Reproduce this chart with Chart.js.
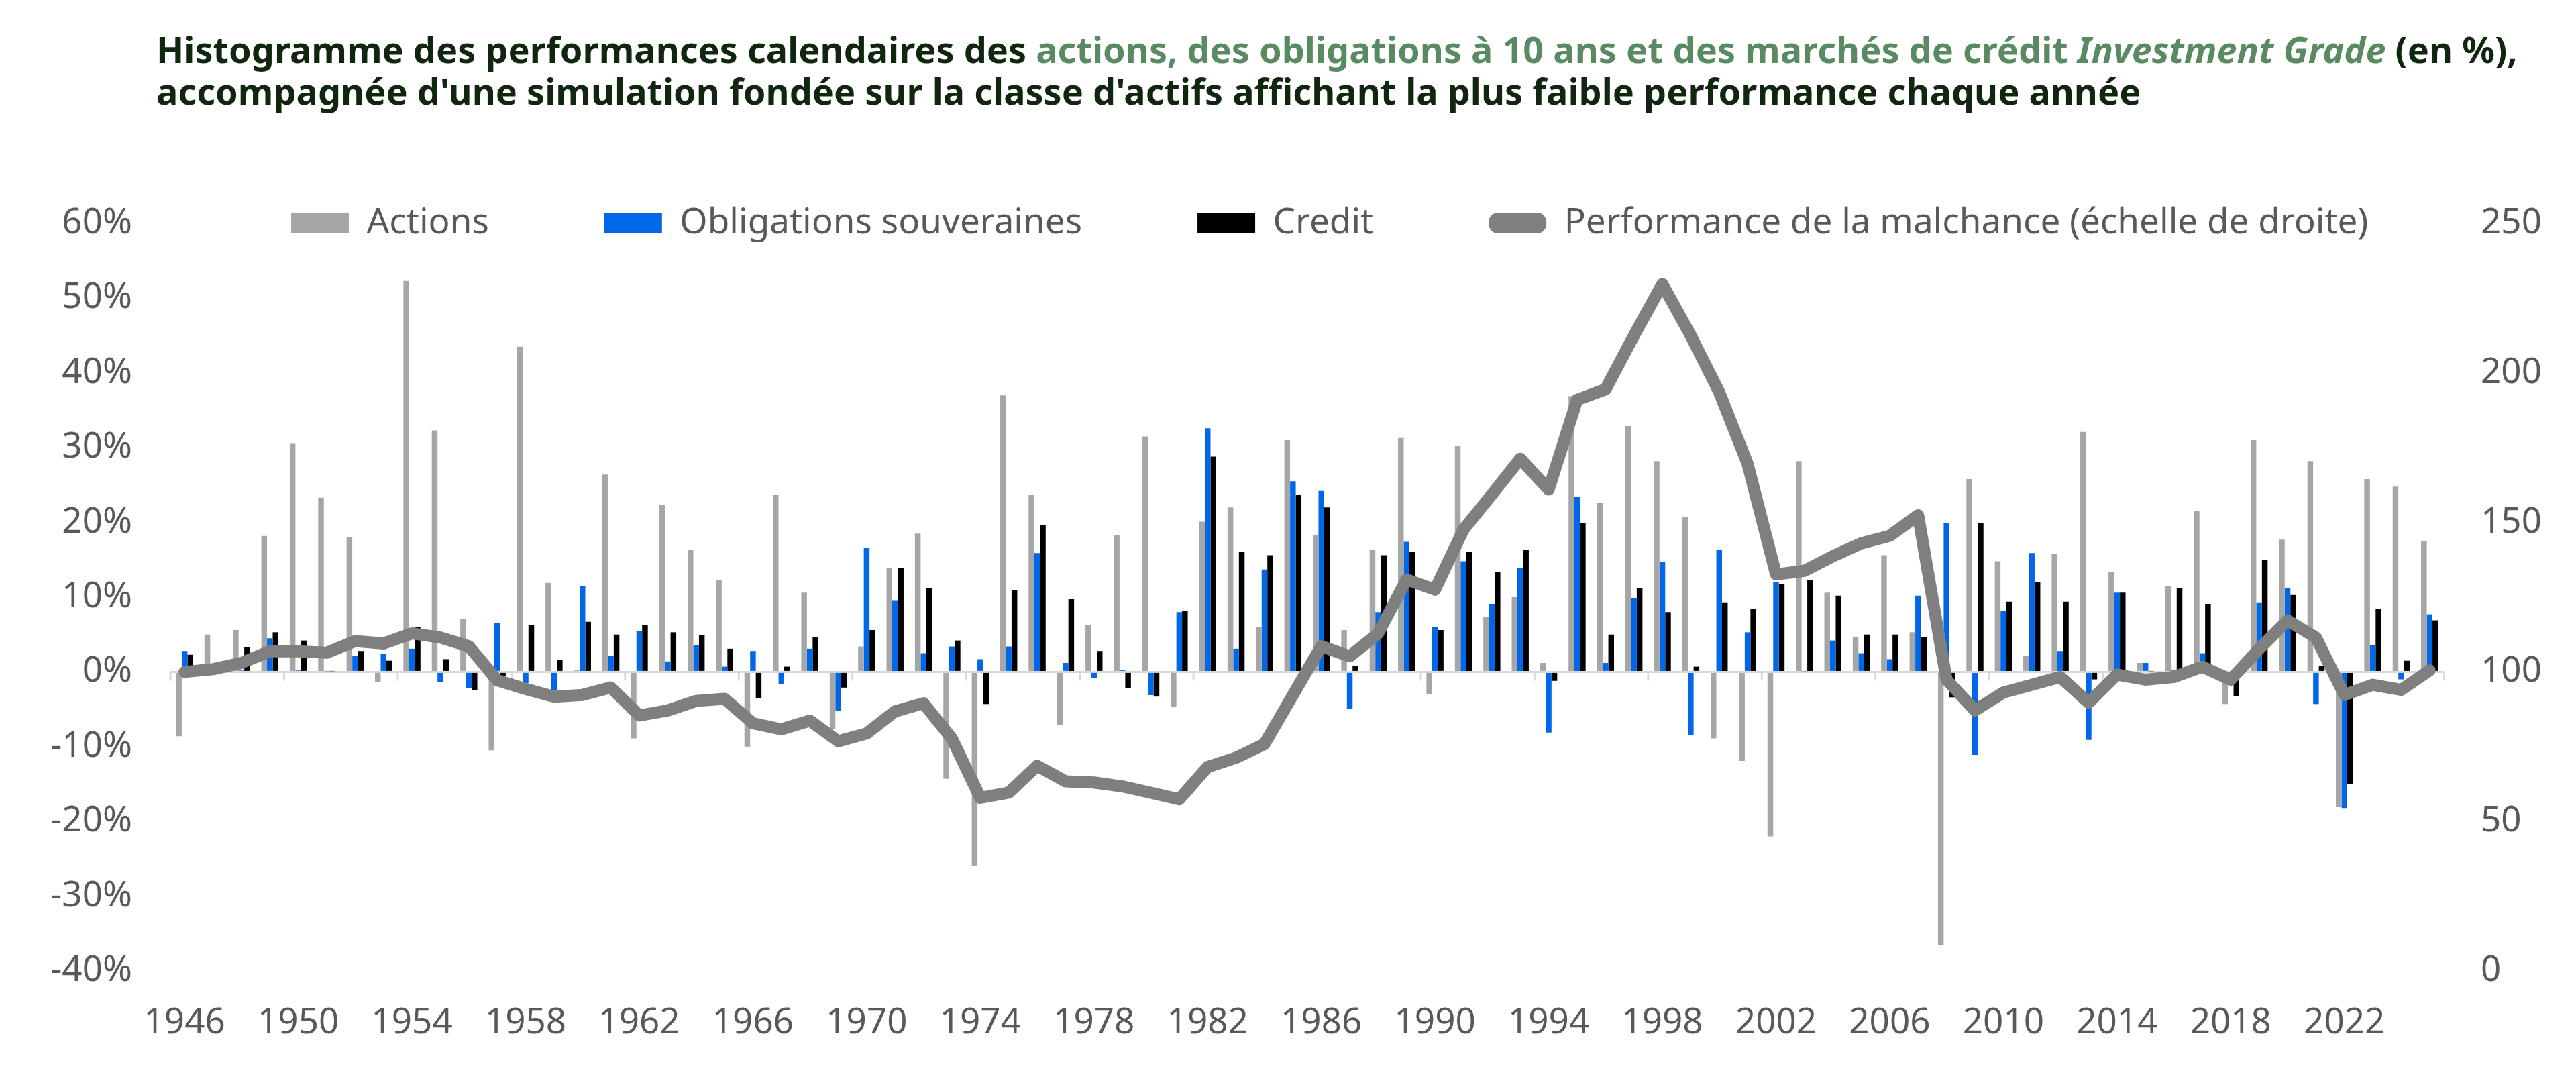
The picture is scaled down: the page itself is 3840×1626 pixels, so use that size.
<!DOCTYPE html>
<html lang="fr">
<head>
<meta charset="utf-8">
<title>Performance de la malchance</title>
<script src="https://cdn.jsdelivr.net/npm/chart.js@4.4.1/dist/chart.umd.min.js"></script>
<style>
  html, body { margin: 0; padding: 0; background: #fff; }
  #wrap { position: relative; width: 3840px; height: 1626px; }
  #title {
    position: absolute; left: 233px; top: 42px;
    font-family: 'Noto Sans', 'Open Sans', sans-serif; font-weight: 700;
    font-size: 54px; line-height: 62px; color: #10260f; white-space: nowrap;
  }
  #title .g { color: #5a8a62; }
  canvas { position: absolute; left: 0; top: 0; }
</style>
</head>
<body>
<div id="wrap">
  <canvas id="chart" width="3840" height="1626"></canvas>
  <div id="title">Histogramme des performances calendaires des <span class="g">actions, des obligations à 10 ans et des marchés de crédit <i>Investment Grade</i></span> (en %),<br>accompagnée d'une simulation fondée sur la classe d'actifs affichant la plus faible performance chaque année</div>
</div>
<script>
// years 1946 -> 2025
const years = [];
for (let y = 1946; y <= 2025; y++) years.push(String(y));

// calendar returns, %
const actions = [
  -8.6, 5.0, 5.6, 18.2, 30.6, 23.3, 18.0, -1.4, 52.3, 32.3,
  7.1, -10.5, 43.5, 11.9, 0.3, 26.4, -8.9, 22.3, 16.3, 12.3,
  -10.0, 23.7, 10.6, -7.6, 3.4, 13.9, 18.5, -14.3, -26.0, 37.0,
  23.7, -7.1, 6.3, 18.3, 31.5, -4.7, 20.1, 22.0, 6.0, 31.0,
  18.3, 5.6, 16.3, 31.3, -3.0, 30.2, 7.4, 10.0, 1.2, 36.9,
  22.6, 32.9, 28.2, 20.7, -8.9, -11.9, -22.0, 28.2, 10.6, 4.7,
  15.6, 5.3, -36.6, 25.8, 14.8, 2.1, 15.8, 32.1, 13.4, 1.2,
  11.5, 21.5, -4.3, 31.0, 17.7, 28.2, -18.0, 25.8, 24.8, 17.5
];
const obligations = [
  2.8, 0.2, 0.2, 4.5, 0.2, 0.1, 2.1, 2.4, 3.1, -1.4,
  -2.2, 6.5, -1.5, -2.5, 11.5, 2.1, 5.5, 1.4, 3.6, 0.7,
  2.8, -1.6, 3.1, -5.2, 16.6, 9.6, 2.5, 3.4, 1.7, 3.4,
  15.9, 1.2, -0.8, 0.3, -3.1, 8.0, 32.6, 3.1, 13.7, 25.5,
  24.2, -4.9, 8.0, 17.4, 6.0, 14.8, 9.1, 13.9, -8.1, 23.4,
  1.2, 9.9, 14.7, -8.4, 16.3, 5.3, 12.0, 0.1, 4.2, 2.5,
  1.7, 10.2, 19.9, -11.1, 8.2, 15.9, 2.8, -9.1, 10.6, 1.2,
  0.3, 2.5, 0.0, 9.3, 11.2, -4.3, -18.2, 3.6, -1.0, 7.7
];
const credit = [
  2.3, 0.1, 3.3, 5.3, 4.2, 0.1, 2.8, 1.5, 6.0, 1.7,
  -2.4, -0.5, 6.3, 1.6, 6.7, 5.0, 6.3, 5.3, 4.9, 3.1,
  -3.5, 0.7, 4.7, -2.1, 5.6, 13.9, 11.2, 4.2, -4.3, 10.9,
  19.6, 9.8, 2.8, -2.2, -3.3, 8.2, 28.8, 16.1, 15.6, 23.7,
  22.0, 0.8, 15.6, 16.1, 5.6, 16.1, 13.4, 16.3, -1.2, 19.9,
  5.0, 11.2, 8.0, 0.7, 9.3, 8.4, 11.7, 12.3, 10.2, 5.0,
  5.0, 4.7, -3.4, 19.9, 9.4, 12.0, 9.4, -1.0, 10.6, 0.1,
  11.2, 9.1, -3.2, 15.0, 10.3, 0.8, -15.0, 8.4, 1.5, 6.9
];
// "bad luck" portfolio, base 100 (right scale)
const malchance = [
  100, 100.9, 103, 106.9, 106.9, 106.4, 110.3, 109.5, 112.9, 111.5,
  108.6, 97.2, 94.3, 91.7, 92.3, 94.8, 85.4, 87.1, 90.3, 91.0,
  82.8, 80.8, 83.7, 76.8, 79.4, 86.8, 89.5, 77.7, 57.9, 59.6,
  68.6, 63.4, 63.0, 61.7, 59.6, 57.4, 68.2, 71.3, 75.9, 92.3,
  108.6, 105.2, 112.9, 130.9, 127.5, 147.6, 159.3, 171.3, 161.0, 191.0,
  194.5, 212.5, 229.7, 212.5, 193.6, 169.6, 132.6, 133.8, 138.7, 143.0,
  145.5, 152.4, 97.4, 87.1, 93.1, 95.7, 98.3, 89.7, 99.1, 97.4,
  98.3, 101.7, 97.4, 107.7, 117.2, 111.5, 92.3, 95.7, 94.0, 100.5
];

const GREY = '#a6a6a6', BLUE = '#0068e8', BLACK = '#000000', LINE = '#7f7f7f';
const TICK = '#595959';

Chart.defaults.font.family = "'Noto Sans', 'Open Sans', sans-serif";
Chart.defaults.font.size = 53;
Chart.defaults.color = TICK;

// legend sits on the top edge of the plot, like the excel original
const legendPlacer = {
  id: 'legendPlacer',
  beforeLayout(chart) {
    const lg = chart.legend;
    if (lg && !lg._patched) {
      const fit = lg.fit;
      lg.fit = function () { fit.call(this); this.height = 199; };
      lg._patched = true;
    }
  },
  afterLayout(chart) {
    const lg = chart.legend;
    if (!lg) return;
    lg.left = 262;
    lg.height = 280;
    lg.bottom = lg.top + 280;
  }
};

// small tick marks under the zero line every 4 years
const zeroTicks = {
  id: 'zeroTicks',
  beforeDatasetsDraw(chart) {
    const x = chart.scales.x, y = chart.scales.y;
    const ctx = chart.ctx;
    const y0 = y.getPixelForValue(0);
    const half = (x.getPixelForValue(1) - x.getPixelForValue(0)) / 2;
    ctx.save();
    ctx.strokeStyle = '#d9d9d9';
    ctx.lineWidth = 3;
    ctx.beginPath();
    for (let i = 0; i < years.length; i += 4) {
      const px = x.getPixelForValue(i) - half;
      ctx.moveTo(px, y0);
      ctx.lineTo(px, y0 + 13);
    }
    const last = x.getPixelForValue(years.length - 1) + half;
    ctx.moveTo(last, y0);
    ctx.lineTo(last, y0 + 13);
    ctx.stroke();
    ctx.restore();
  }
};

new Chart(document.getElementById('chart'), {
  data: {
    labels: years,
    datasets: [
      { type: 'bar', label: 'Actions', data: actions, backgroundColor: GREY, order: 1, yAxisID: 'y' },
      { type: 'bar', label: 'Obligations souveraines', data: obligations, backgroundColor: BLUE, order: 2, yAxisID: 'y' },
      { type: 'bar', label: 'Credit', data: credit, backgroundColor: BLACK, order: 3, yAxisID: 'y' },
      { type: 'line', label: 'Performance de la malchance (échelle de droite)', data: malchance,
        borderColor: LINE, backgroundColor: LINE, borderWidth: 18, pointRadius: 0, tension: 0,
        borderJoinStyle: 'round', borderCapStyle: 'round', order: 0, yAxisID: 'y1' }
    ]
  },
  options: {
    responsive: false,
    devicePixelRatio: 1,
    animation: false,
    layout: { padding: { top: 134, left: 0, right: 0, bottom: 0 } },
    datasets: { bar: { barPercentage: 1.0, categoryPercentage: 0.6 } },
    plugins: {
      tooltip: { enabled: false },
      legend: {
        position: 'top',
        align: 'start',
        labels: {
          boxWidth: 86,
          boxHeight: 31,
          padding: 172,
          color: TICK,
          font: { size: 53 },
          generateLabels: (chart) => chart.data.datasets.map((ds, i) => ({
            text: ds.label,
            fillStyle: ds.type === 'line' ? ds.borderColor : ds.backgroundColor,
            strokeStyle: ds.type === 'line' ? ds.borderColor : ds.backgroundColor,
            lineWidth: 0,
            borderRadius: ds.type === 'line' ? 14 : 0,
            hidden: !chart.isDatasetVisible(i),
            datasetIndex: i,
            fontColor: TICK
          }))
        }
      }
    },
    scales: {
      x: {
        type: 'category',
        grid: { display: false, drawTicks: false },
        border: { display: false },
        ticks: {
          autoSkip: false, maxRotation: 0, minRotation: 0, padding: 46,
          callback: (v, i) => (i % 4 === 0 ? years[i] : '')
        },
        afterFit: (s) => { s.height = 179; }
      },
      y: {
        position: 'left',
        min: -40, max: 60,
        grid: {
          drawTicks: false,
          lineWidth: 3,
          color: (c) => (c.tick && c.tick.value === 0 ? '#d9d9d9' : 'rgba(0,0,0,0)')
        },
        border: { display: false },
        ticks: { stepSize: 10, padding: 57, callback: (v) => v + '%' },
        afterFit: (s) => { s.width = 254; }
      },
      y1: {
        position: 'right',
        min: 0, max: 250,
        grid: { display: false, drawTicks: false },
        border: { display: false },
        ticks: { stepSize: 50, padding: 55 },
        afterFit: (s) => { s.width = 197; }
      }
    }
  },
  plugins: [legendPlacer, zeroTicks]
});
</script>
</body>
</html>
